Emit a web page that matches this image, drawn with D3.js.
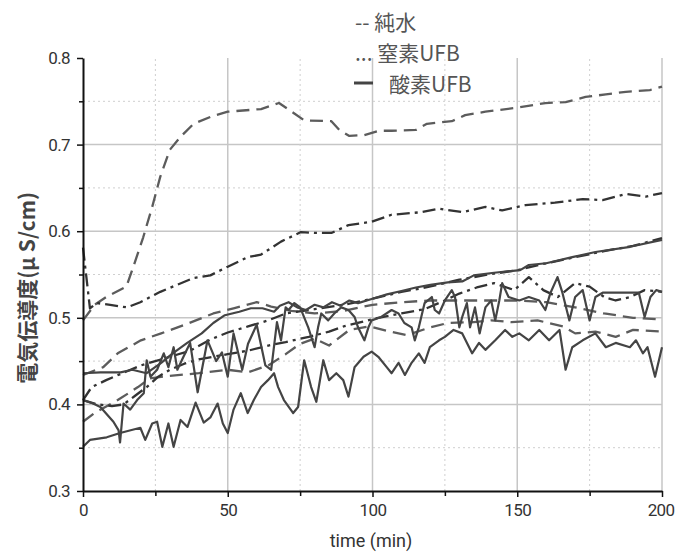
<!DOCTYPE html>
<html>
<head>
<meta charset="utf-8">
<script src="https://cdn.jsdelivr.net/npm/d3@7"></script>
<style>
  body { margin: 0; background: #fff; }
  svg { display: block; }
  .tick text { font-family: Roboto, "Noto Sans", sans-serif; }
</style>
</head>
<body>
<div id="chart"></div>
<script>
// axis ticks
var xMajor = [0, 50, 100, 150, 200];
var xMinor = [25, 75, 125, 175];
var yMajor = [0.3, 0.4, 0.5, 0.6, 0.7, 0.8];
var yMinor = [0.35, 0.45, 0.55, 0.65, 0.75];

// legend labels
var legendLabels = ['-- 純水', '... 窒素UFB', '酸素UFB'];

// 純水 (dashed) : [time, value]
var pure1 = [[0,0.497],[4,0.515],[8,0.524],[15,0.536],[17.4,0.559],[20.8,0.593],[23.9,0.628],[26.7,0.663],[30,0.694],[33.7,0.709],[38.2,0.724],[44,0.732],[50,0.738],[61.5,0.741],[67.7,0.748],[73,0.736],[76.4,0.728],[85.8,0.727],[88.5,0.717],[92,0.71],[97.2,0.711],[102.4,0.716],[106.6,0.716],[115,0.717],[118.8,0.724],[127.4,0.727],[132,0.734],[139,0.738],[150.7,0.743],[159.7,0.748],[166.7,0.749],[173.6,0.755],[180.6,0.758],[187.5,0.761],[195.8,0.763],[200,0.767]];
var pure2 = [[0,0.434],[7,0.443],[12,0.459],[20,0.474],[27,0.482],[36,0.493],[45,0.505],[52,0.511],[60,0.518],[65,0.513],[72,0.508],[80,0.505],[90,0.508],[100,0.515],[110,0.518],[120,0.52],[130,0.52],[140,0.52],[150,0.52],[160,0.518],[170,0.512],[180,0.505],[190,0.5],[200,0.498]];
var pure3 = [[0,0.38],[4,0.39],[12,0.405],[19,0.42],[23,0.43],[30,0.433],[40,0.436],[50,0.44],[57,0.437],[64,0.445],[70,0.458],[75,0.47],[80,0.476],[85,0.468],[92,0.486],[99,0.49],[105,0.485],[112,0.48],[119,0.488],[126,0.494],[135,0.495],[141,0.497],[148,0.495],[157,0.497],[166,0.49],[170,0.482],[177,0.484],[184,0.478],[190,0.486],[200,0.484]];

// 窒素UFB (dash-dot)
var nitro1 = [[0,0.581],[2.4,0.511],[4.8,0.517],[9.4,0.515],[15.2,0.512],[19.8,0.518],[26.7,0.53],[38.2,0.546],[44,0.549],[50,0.559],[56.9,0.57],[61.5,0.573],[68.4,0.588],[75.3,0.599],[79.9,0.598],[85.8,0.598],[91.7,0.607],[99.7,0.611],[106.6,0.619],[117,0.622],[123,0.626],[131,0.622],[139,0.628],[144.8,0.624],[152.8,0.63],[163,0.633],[172.6,0.637],[179.5,0.636],[187.5,0.643],[194.4,0.64],[200,0.644]];
var nitro2 = [[0,0.405],[3,0.42],[8,0.428],[15,0.438],[20,0.445],[25,0.45],[30,0.455],[37,0.462],[44,0.475],[50,0.483],[57,0.49],[64,0.497],[70,0.505],[80,0.51],[90,0.515],[100,0.522],[105,0.526],[110,0.53],[117,0.534],[125,0.54],[130,0.544],[140,0.55],[150,0.555],[160,0.563],[170,0.57],[180,0.577],[190,0.583],[200,0.592]];
var nitro3 = [[0,0.405],[5,0.4],[10,0.398],[14,0.4],[18,0.41],[22,0.42],[26,0.432],[30,0.44],[35,0.447],[40,0.452],[45,0.455],[50,0.458],[57,0.462],[64,0.468],[70,0.472],[78,0.478],[85,0.484],[90,0.49],[96,0.495],[102,0.5],[110,0.505],[118,0.51],[125,0.52],[130,0.528],[136,0.535],[142,0.54],[149,0.532],[154,0.547],[159,0.532],[164,0.524],[170,0.54],[175,0.536],[180,0.524],[184,0.52],[189,0.524],[194,0.532],[200,0.53]];

// 酸素UFB (solid)
var oxy1 = [[0,0.351],[2.4,0.359],[8.2,0.362],[12.8,0.367],[19.8,0.373],[21.5,0.359],[23.9,0.378],[25.6,0.38],[27.4,0.351],[29.5,0.378],[31.3,0.351],[33.7,0.382],[36.1,0.374],[38.9,0.402],[41.7,0.379],[44,0.385],[46.5,0.401],[48.3,0.378],[50,0.367],[52,0.394],[54.5,0.413],[56.9,0.39],[59,0.405],[61.5,0.42],[63.9,0.428],[66,0.436],[67.4,0.42],[69.4,0.405],[72.6,0.39],[74.3,0.397],[76.4,0.451],[78.8,0.42],[80.6,0.403],[83,0.451],[85,0.428],[87.5,0.436],[89.9,0.428],[91.7,0.409],[93.8,0.443],[96.9,0.455],[99.7,0.461],[102,0.455],[104.9,0.443],[106.6,0.436],[109,0.448],[111.2,0.434],[113.5,0.448],[116,0.459],[118,0.448],[119.8,0.466],[123,0.474],[125,0.478],[128,0.486],[131,0.482],[134.4,0.459],[136.8,0.471],[139,0.463],[142.4,0.474],[145.8,0.486],[148.3,0.478],[150.7,0.482],[154,0.474],[157.6,0.486],[161,0.474],[164.6,0.486],[166.7,0.44],[169,0.466],[172.6,0.474],[177,0.482],[180.6,0.466],[184,0.471],[188.9,0.466],[191,0.474],[193.4,0.459],[195,0.466],[197.6,0.432],[200,0.466]];
var oxy2 = [[0,0.436],[6,0.437],[13,0.437],[17,0.44],[22,0.436],[27,0.448],[31,0.459],[36,0.471],[41,0.482],[45,0.494],[49,0.503],[54,0.507],[58,0.511],[62,0.511],[66,0.507],[68,0.514],[71,0.518],[74,0.512],[77,0.509],[80,0.515],[83,0.512],[86,0.518],[89,0.514],[92,0.52],[95,0.517],[100,0.522],[105,0.527],[110,0.531],[115,0.535],[120,0.538],[126,0.541],[131,0.542],[135,0.549],[142,0.552],[151,0.555],[154,0.561],[160,0.563],[169,0.57],[177,0.576],[189,0.582],[200,0.59]];
var oxy3 = [[0,0.405],[3.5,0.401],[6,0.397],[10.5,0.38],[12.3,0.37],[12.8,0.356],[14,0.401],[16.3,0.394],[18.7,0.405],[21,0.413],[22,0.451],[23.3,0.432],[25.6,0.44],[27.9,0.459],[29.5,0.443],[31.3,0.466],[32.6,0.44],[34.7,0.455],[37,0.471],[39.6,0.414],[43,0.474],[46,0.45],[48,0.46],[50,0.432],[52,0.482],[55,0.44],[57,0.47],[60,0.492],[63,0.445],[65,0.44],[67,0.495],[68.4,0.474],[70,0.512],[71,0.509],[73,0.517],[75,0.512],[77.8,0.489],[80,0.466],[81.2,0.489],[82.3,0.505],[84.7,0.497],[86.8,0.505],[89.2,0.512],[91.7,0.509],[93.8,0.501],[95,0.489],[97.2,0.474],[98.6,0.489],[99.7,0.497],[103,0.501],[106.6,0.509],[109,0.505],[111,0.494],[113.5,0.489],[114.6,0.474],[116,0.489],[118,0.517],[120.5,0.524],[121.5,0.509],[123,0.505],[125,0.52],[127.4,0.532],[128.5,0.524],[130,0.489],[131,0.501],[132.6,0.517],[133.7,0.489],[135.4,0.512],[137,0.482],[139,0.512],[141,0.52],[142.4,0.497],[143.8,0.52],[144.8,0.54],[147,0.524],[150.7,0.52],[154,0.524],[157.6,0.52],[159.7,0.509],[161.5,0.529],[163.9,0.547],[165.6,0.529],[168,0.497],[170,0.524],[172.6,0.532],[175,0.497],[177,0.524],[179.5,0.529],[184,0.529],[189,0.529],[192,0.529],[194,0.501],[196,0.524],[198,0.532],[200,0.53]];

var W = 675, H = 552;
var svg = d3.select('#chart').append('svg')
  .attr('width', W)
  .attr('height', H);

var x = d3.scaleLinear().domain([0, 200]).range([83, 662]);
var y = d3.scaleLinear().domain([0.3, 0.8]).range([491, 58]);

// grid
var grid = svg.append('g');
grid.selectAll('.hmaj').data(yMajor.slice(1, 5)).enter().append('line')
  .attr('x1', x(0)).attr('x2', x(200))
  .attr('y1', function(d){ return y(d); }).attr('y2', function(d){ return y(d); })
  .attr('stroke', '#c6c6c6').attr('stroke-width', 1.5);
grid.selectAll('.hmin').data(yMinor).enter().append('line')
  .attr('x1', x(0)).attr('x2', x(200))
  .attr('y1', function(d){ return y(d); }).attr('y2', function(d){ return y(d); })
  .attr('stroke', '#cfcfcf').attr('stroke-width', 1).attr('stroke-dasharray', '2,3');
grid.selectAll('.vmaj').data(xMajor.slice(1)).enter().append('line')
  .attr('y1', y(0.3)).attr('y2', y(0.8))
  .attr('x1', function(d){ return x(d); }).attr('x2', function(d){ return x(d); })
  .attr('stroke', '#c6c6c6').attr('stroke-width', 1.5);
grid.selectAll('.vmin').data(xMinor).enter().append('line')
  .attr('y1', y(0.3)).attr('y2', y(0.8))
  .attr('x1', function(d){ return x(d); }).attr('x2', function(d){ return x(d); })
  .attr('stroke', '#cfcfcf').attr('stroke-width', 1).attr('stroke-dasharray', '2,3');

// lines
var line = d3.line()
  .x(function(d){ return x(d[0]); })
  .y(function(d){ return y(d[1]); });

var series = [
  { data: pure1, color: '#5c5c5c', dash: '13,7', w: 2.3 },
  { data: pure2, color: '#5c5c5c', dash: '13,7', w: 2.3 },
  { data: pure3, color: '#5c5c5c', dash: '13,7', w: 2.3 },
  { data: nitro1, color: '#333', dash: '13,5,3,5', w: 2.3 },
  { data: nitro2, color: '#333', dash: '13,5,3,5', w: 2.3 },
  { data: nitro3, color: '#333', dash: '13,5,3,5', w: 2.3 },
  { data: oxy1, color: '#444', dash: null, w: 2.2 },
  { data: oxy2, color: '#444', dash: null, w: 2.2 },
  { data: oxy3, color: '#444', dash: null, w: 2.2 }
];

svg.append('g').selectAll('path').data(series).enter().append('path')
  .attr('d', function(d){ return line(d.data); })
  .attr('fill', 'none')
  .attr('stroke', function(d){ return d.color; })
  .attr('stroke-width', function(d){ return d.w; })
  .attr('stroke-dasharray', function(d){ return d.dash; })
  .attr('stroke-linejoin', 'round');

// axes
svg.append('g')
  .attr('transform', 'translate(' + x(0) + ',0)')
  .call(d3.axisLeft(y).tickValues(yMajor).tickFormat(d3.format('.1f')).tickSize(6).tickPadding(7).tickSizeOuter(0));
svg.append('g')
  .attr('transform', 'translate(' + x(0) + ',0)')
  .call(d3.axisLeft(y).tickValues(yMinor).tickFormat('').tickSize(4).tickSizeOuter(0))
  .select('.domain').remove();

var xAxis = svg.append('g')
  .attr('transform', 'translate(0,' + y(0.3) + ')')
  .call(d3.axisBottom(x).tickValues(xMajor).tickSize(6).tickPadding(7).tickSizeOuter(0));
svg.append('g')
  .attr('transform', 'translate(0,' + y(0.3) + ')')
  .call(d3.axisBottom(x).tickValues(xMinor).tickFormat('').tickSize(5).tickSizeOuter(0))
  .select('.domain').remove();

svg.selectAll('.domain').attr('stroke', '#111').attr('stroke-width', 2);
svg.selectAll('.tick line').attr('stroke', '#111').attr('stroke-width', 1.5);
svg.selectAll('.tick text')
  .attr('font-size', 17)
  .attr('letter-spacing', '-0.6px')
  .attr('fill', '#333');
// last x label sits on the right edge, as in the original
xAxis.selectAll('.tick text').filter(function(d){ return d === 200; })
  .attr('text-anchor', 'end')
  .attr('dx', 12);

// axis titles
svg.append('text')
  .attr('transform', 'translate(26,288) rotate(-90)')
  .attr('text-anchor', 'middle')
  .attr('dominant-baseline', 'central')
  .attr('font-family', '"Noto Sans CJK JP", sans-serif')
  .attr('font-size', 21)
  .attr('font-weight', 'bold')
  .attr('fill', '#444')
  .text('電気伝導度(μ S/cm)');

svg.append('text')
  .attr('x', 371)
  .attr('y', 547)
  .attr('text-anchor', 'middle')
  .attr('font-family', 'Roboto, "Noto Sans", sans-serif')
  .attr('font-size', 18)
  .attr('fill', '#333')
  .text('time (min)');

// legend
var legend = svg.append('g')
  .attr('font-family', '"Noto Sans CJK JP", sans-serif')
  .attr('font-size', 21)
  .attr('fill', '#555');
legend.append('text').attr('x', 355).attr('y', 21).attr('dominant-baseline', 'central').text(legendLabels[0]);
legend.append('text').attr('x', 355).attr('y', 52).attr('dominant-baseline', 'central').text(legendLabels[1]);
legend.append('line')
  .attr('x1', 354).attr('x2', 373).attr('y1', 83).attr('y2', 83)
  .attr('stroke', '#444').attr('stroke-width', 3);
legend.append('text').attr('x', 389).attr('y', 83).attr('dominant-baseline', 'central').text(legendLabels[2]);
</script>
</body>
</html>
